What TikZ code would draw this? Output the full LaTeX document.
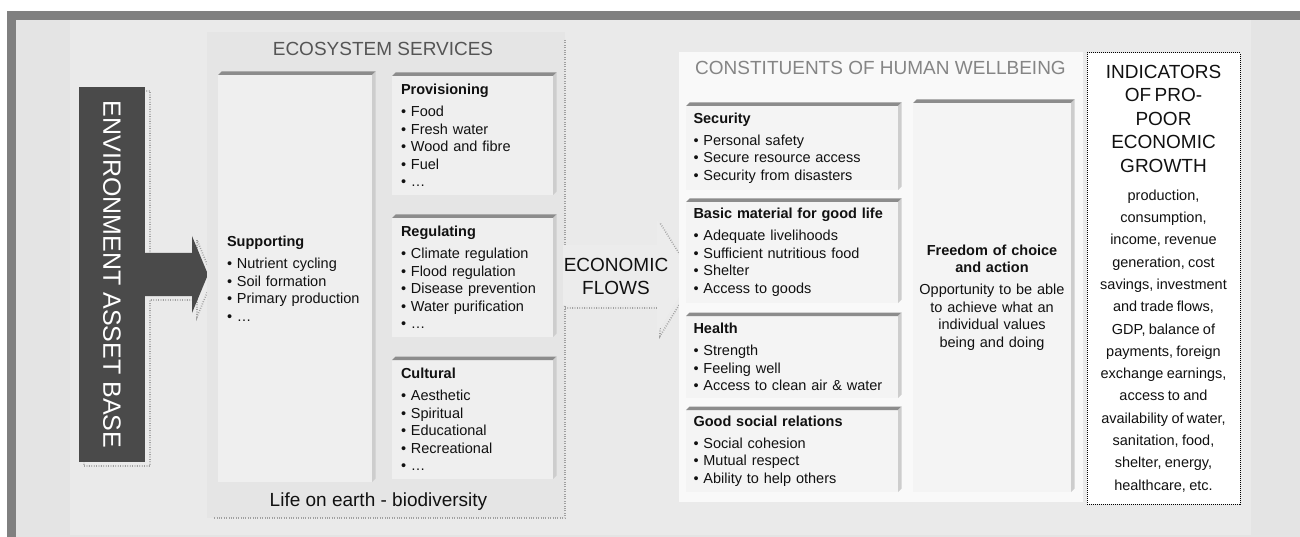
\documentclass[tikz,border=0pt]{standalone}
\usepackage{fontspec}
\setmainfont{Liberation Sans}
\usepackage{graphicx}
\usetikzlibrary{positioning}
\definecolor{framegray}{HTML}{808080}
\definecolor{outerbg}{HTML}{E4E4E4}
\definecolor{innerbg}{HTML}{EAEAEA}
\definecolor{espanel}{HTML}{E5E5E5}
\definecolor{esface}{HTML}{EFEFEF}
\definecolor{bevdark}{HTML}{8C8C8C}
\definecolor{bevlight}{HTML}{CDCDCD}
\definecolor{hwpanel}{HTML}{F9F9F9}
\definecolor{hwface}{HTML}{F4F4F4}
\definecolor{envdark}{HTML}{4A4A4A}
\definecolor{dotgray}{HTML}{A0A0A0}
\definecolor{flowfill}{HTML}{ECECEC}
\definecolor{esink}{HTML}{555555}
\definecolor{hwink}{HTML}{858585}
\definecolor{inkcol}{HTML}{111111}
\newcommand\bodysize{\fontsize{14.5}{17.5}\selectfont}
\newcommand\headsize{\fontsize{19}{23}\selectfont}

\begin{document}
\begin{tikzpicture}[x=1pt,y=-1pt,
panel/.style={anchor=north west,outer sep=0pt,inner sep=0pt},
esbox/.style={fill=esface,outer sep=0pt,inner xsep=9pt,inner ysep=0pt,align=left,font=\bodysize,text=inkcol},
hwbox/.style={fill=hwface,outer sep=0pt,inner xsep=7.5pt,inner ysep=0pt,align=left,font=\bodysize,text=inkcol},
bevtop/.style={fill=bevdark},
bevside/.style={fill=bevlight},
shadowdots/.style={draw=dotgray,line width=1.6pt,dash pattern=on 0.8pt off 1.6pt},
heading/.style={font=\headsize,align=center}]

\useasboundingbox (0,0) rectangle (1300,537);
\fill[white] (0,0) rectangle (1300,537);
\fill[framegray] (7,11) rectangle (1300,537);
\fill[outerbg] (16,20) rectangle (1300,537);
\fill[innerbg] (70,20) rectangle (1251,535);

\draw[shadowdots] (84,91) -- (150,91) -- (150,257) -- (197,257) -- (197,240) -- (213,278.5)
  -- (197,317) -- (197,300) -- (150,300) -- (150,466) -- (84,466) -- cycle;
\node (env) [panel,fill=envdark,minimum width=66pt,minimum height=375pt,text=white,
  font=\fontsize{25}{25}\selectfont] at (79,87) {\rotatebox{-90}{ENVIRONMENT ASSET BASE}};
\fill[envdark] ([xshift=-1pt,yshift=21.5pt]env.east) -- ++(48,0) -- ++(0,-17) -- ++(16,38.5)
  -- ++(-16,38.5) -- ++(0,-17) -- ++(-48,0) -- cycle;

\node (esp) [panel,fill=espanel,minimum width=358pt,minimum height=486pt] at (207,32) {};
\draw[shadowdots] ([yshift=-8pt]esp.north east) -- (esp.south east) -- ([xshift=6pt]esp.south west);
\node (estitle) [heading,text=esink] at (383,49) {ECOSYSTEM SERVICES};
\node (life) [heading,text=inkcol] at (378.5,502) {Life on earth - biodiversity};

\node (supp) [esbox,anchor=north west,text width=136pt,minimum height=407pt] at (218,75)
  {\textbf{Supporting}\\[4.5pt]• Nutrient cycling\\• Soil formation\\• Primary production\\• …};
\node (prov) [esbox,anchor=north west,text width=143pt,minimum height=119pt] at (392,76)
  {\textbf{Provisioning}\\[4.5pt]• Food\\• Fresh water\\• Wood and fibre\\• Fuel\\• …};
\node (regu) [esbox,below=23pt of prov,text width=143pt,minimum height=119pt]
  {\textbf{Regulating}\\[4.5pt]• Climate regulation\\• Flood regulation\\• Disease prevention\\• Water purification\\• …};
\node (cult) [esbox,below=23pt of regu,text width=143pt,minimum height=119pt]
  {\textbf{Cultural}\\[4.5pt]• Aesthetic\\• Spiritual\\• Educational\\• Recreational\\• …};

\draw[shadowdots] (565,308) -- (660,308) -- (660,336) -- (695,279) -- (660,223) -- (660,248);
\fill[flowfill] (563,245) -- (657,245) -- (657,220) -- (692,276) -- (657,333) -- (657,305) -- (563,305) -- cycle;
\node (ecof) [heading,text=inkcol] at (616,276) {ECONOMIC\\FLOWS};

\node (hwp) [panel,fill=hwpanel,minimum width=404pt,minimum height=450pt] at (679,52) {};
\node (hwtitle) [heading,text=hwink] at (880.5,68) {CONSTITUENTS OF HUMAN WELLBEING};

\node (secu) [hwbox,anchor=north west,text width=197pt,minimum height=84pt] at (686,106)
  {\textbf{Security}\\[4.5pt]• Personal safety\\• Secure resource access\\• Security from disasters};
\node (matl) [hwbox,below=12pt of secu,text width=197pt,minimum height=101pt]
  {\textbf{Basic material for good life}\\[4.5pt]• Adequate livelihoods\\• Sufficient nutritious food\\• Shelter\\• Access to goods};
\node (hlth) [hwbox,below=13pt of matl,text width=197pt,minimum height=82pt]
  {\textbf{Health}\\[4.5pt]• Strength\\• Feeling well\\• Access to clean air \& water};
\node (socl) [hwbox,below=12pt of hlth,text width=197pt,minimum height=82pt]
  {\textbf{Good social relations}\\[4.5pt]• Social cohesion\\• Mutual respect\\• Ability to help others};
\node (frdm) [hwbox,anchor=north west,align=center,inner xsep=2pt,text width=154pt,minimum height=389pt] at (913,103)
  {{\bfseries Freedom of choice\\and action}\\[4.5pt]Opportunity to be able\\to achieve what an\\individual values\\being and doing};

\foreach \b in {supp,prov,regu,cult,secu,matl,hlth,socl,frdm} {
  \fill[bevtop] (\b.north west) -- ++(3.5,-3.5) -- ([xshift=3.5pt,yshift=3.5pt]\b.north east) -- (\b.north east) -- cycle;
  \fill[bevside] (\b.north east) -- ([xshift=3.5pt,yshift=3.5pt]\b.north east)
    -- ([xshift=3.5pt,yshift=3.5pt]\b.south east) -- (\b.south east) -- cycle;
}

\node (ind) [panel,fill=white,draw=black,line width=1pt,dash pattern=on 1pt off 1pt,
  minimum width=153pt,minimum height=451pt,text width=151pt,align=center,text=inkcol] at (1087,53)
  {{\fontsize{19}{23.5}\selectfont INDICATORS\\OF PRO-\\POOR\\ECONOMIC\\GROWTH\par}\vspace{5.7pt}%
   {\fontsize{14.5}{22.3}\selectfont production,\\consumption,\\income, revenue\\generation, cost\\savings, investment\\and trade flows,\\GDP, balance of\\payments, foreign\\exchange earnings,\\access to and\\availability of water,\\sanitation, food,\\shelter, energy,\\healthcare, etc.\par}};
\end{tikzpicture}
\end{document}
